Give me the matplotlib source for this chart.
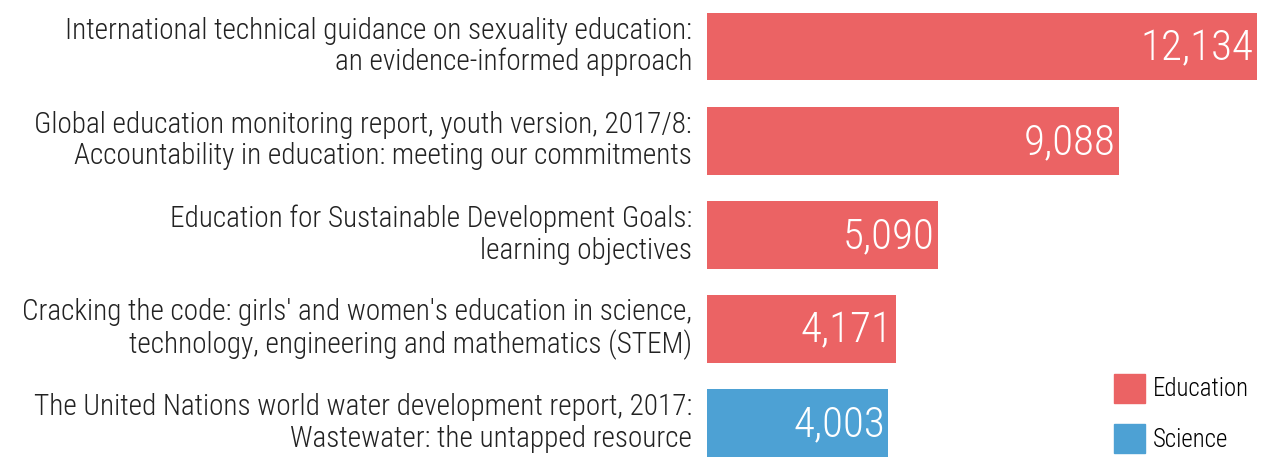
import matplotlib.pyplot as plt
from matplotlib.patches import Patch

plt.rcParams['font.family'] = ['Roboto Condensed', 'Roboto', 'DejaVu Sans']

titles = [
    "International technical guidance on sexuality education:\nan evidence-informed approach",
    "Global education monitoring report, youth version, 2017/8:\nAccountability in education: meeting our commitments",
    "Education for Sustainable Development Goals:\nlearning objectives",
    "Cracking the code: girls' and women's education in science,\ntechnology, engineering and mathematics (STEM)",
    "The United Nations world water development report, 2017:\nWastewater: the untapped resource",
]
downloads = [12134, 9088, 5090, 4171, 4003]
subjects = ["Education", "Education", "Education", "Education", "Science"]
colors = {"Education": "#EB6364", "Science": "#4DA1D4"}

W, H = 1275, 457
fig = plt.figure(figsize=(W / 100, H / 100), dpi=100)
ax = fig.add_axes([707 / W, 0, 568 / W, 1])

y = list(range(len(titles)))
ax.barh(y, downloads, height=0.72, color=[colors[s] for s in subjects])
ax.set_xlim(0, 12530)
ax.set_ylim(4.361, -0.494)

for yi, v, t in zip(y, downloads, titles):
    ax.text(v - 80, yi + 0.02, f"{v:,}", color="white", fontsize=31, fontweight="light",
            ha="right", va="center")
    ax.text(-330, yi, t, color="#222222", fontsize=21.1, fontweight="light",
            ha="right", va="center", linespacing=1.15)

ax.axis("off")

handles = [Patch(color=colors[k], label=k) for k in ["Education", "Science"]]
fig.legend(handles=handles, loc="lower left", bbox_to_anchor=(1092 / W, -0.04),
           frameon=False, handlelength=1.25, handleheight=1.43,
           labelspacing=0.84, handletextpad=0.3, prop={'weight': 'light', 'size': 17.9})

fig.savefig("out.png", dpi=100)
